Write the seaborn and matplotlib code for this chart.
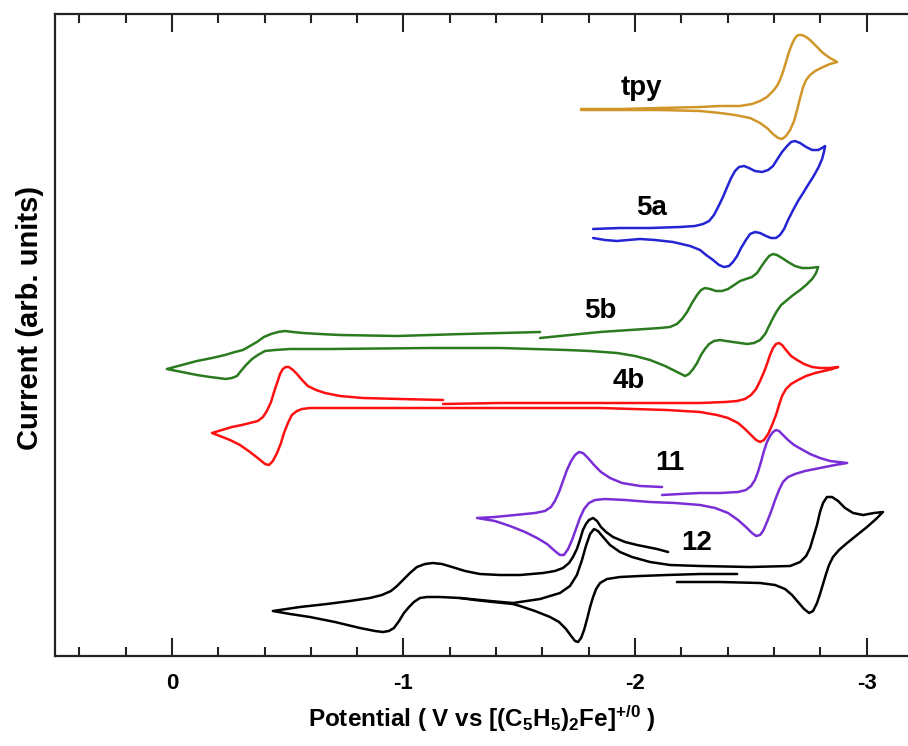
import numpy as np
import pandas as pd
import matplotlib
matplotlib.use("Agg")
import matplotlib.pyplot as plt
from matplotlib.ticker import MultipleLocator
import seaborn as sns

# ---- data (potential in V vs Fc+/0, current in arb. units) ----
tpy_E = [-1.767, -1.935, -2.108, -2.281, -2.367, -2.454, -2.505, -2.540, -2.570, -2.596, -2.613, -2.626, -2.639,
         -2.652, -2.665, -2.678, -2.691, -2.704, -2.721, -2.739, -2.756, -2.782, -2.812, -2.842, -2.873,
         -2.842, -2.812, -2.778, -2.756, -2.739, -2.726, -2.713, -2.700, -2.687, -2.670, -2.652, -2.635, -2.618,
         -2.596, -2.570, -2.540, -2.497, -2.432, -2.367, -2.281, -2.108, -1.935, -1.767]
tpy_I = [547, 547, 548, 549, 550, 550, 552, 555, 559, 565, 570, 576, 584,
         594, 604, 612, 618, 621, 621, 619, 616, 610, 603, 598, 594,
         592, 589, 585, 581, 576, 569, 558, 546, 535, 526, 520, 517, 518,
         522, 528, 533, 538, 541, 543, 545, 546, 546, 546]

a5_E = [-1.819, -1.935, -2.065, -2.194, -2.259, -2.294, -2.320, -2.341, -2.359, -2.380, -2.398, -2.415, -2.432,
        -2.449, -2.471, -2.492, -2.518, -2.549, -2.575, -2.596, -2.618, -2.635, -2.657, -2.674, -2.691, -2.713,
        -2.739, -2.765, -2.791, -2.808, -2.821,
        -2.816, -2.808, -2.791, -2.769, -2.747, -2.726, -2.704, -2.683, -2.661, -2.644, -2.626, -2.609, -2.587,
        -2.566, -2.540, -2.518, -2.497, -2.479, -2.458, -2.441, -2.423, -2.406, -2.384, -2.363, -2.337, -2.307,
        -2.281, -2.238, -2.164, -2.086, -2.022, -1.970, -1.922, -1.870, -1.819]
a5_I = [427, 428, 428, 429, 430, 432, 435, 441, 449, 459, 469, 478, 485,
        489, 490, 488, 485, 484, 486, 490, 498, 504, 510, 514, 515, 513,
        509, 506, 506, 508, 510,
        504, 497, 488, 479, 471, 463, 455, 446, 436, 427, 421, 418, 418,
        420, 423, 424, 422, 416, 408, 400, 394, 390, 389, 391, 396, 401,
        406, 410, 414, 416, 417, 416, 415, 416, 418]

b5_E = [-1.590, -1.719, -1.849, -1.978, -2.108, -2.151, -2.181, -2.203, -2.225, -2.246, -2.268, -2.285, -2.302,
        -2.324, -2.350, -2.376, -2.402, -2.428, -2.454, -2.479, -2.505, -2.527, -2.544, -2.562, -2.579, -2.596,
        -2.613, -2.635, -2.661, -2.691, -2.721, -2.756, -2.791,
        -2.782, -2.765, -2.739, -2.713, -2.683, -2.657, -2.631, -2.613, -2.596, -2.579, -2.562, -2.540, -2.514,
        -2.484, -2.454, -2.423, -2.393, -2.367, -2.341, -2.320, -2.302, -2.285, -2.268, -2.251, -2.233, -2.216,
        -2.199, -2.173, -2.130, -2.065, -2.000, -1.922, -1.806, -1.706, -1.417, -1.114, -0.683, -0.510, -0.445,
        -0.402, -0.371, -0.346, -0.320, -0.298, -0.281, -0.259, -0.233, -0.199, -0.164, -0.108, -0.043, 0.022,
        -0.043, -0.108, -0.173, -0.229, -0.272, -0.307, -0.337, -0.367, -0.397, -0.428, -0.458, -0.488, -0.523,
        -0.566, -0.639, -0.726, -0.972, -1.257, -1.590]
b5_I = [318, 321, 324, 326, 328, 329, 332, 337, 344, 353, 361, 366, 368,
        367, 365, 365, 367, 371, 375, 377, 379, 383, 389, 395, 400, 402,
        401, 398, 394, 390, 388, 388, 389,
        383, 377, 371, 366, 361, 356, 351, 345, 338, 330, 322, 316, 313,
        312, 313, 314, 315, 316, 315, 312, 307, 301, 293, 287, 282, 280,
        282, 285, 290, 296, 300, 303, 305, 306, 308, 308, 307, 307, 306,
        305, 301, 297, 291, 285, 280, 278, 277, 278, 279, 281, 284, 287,
        291, 295, 298, 301, 304, 306, 310, 314, 319, 322, 324, 325, 324,
        323, 322, 321, 320, 322, 324]

b4_E = [-1.171, -1.417, -1.991, -2.281, -2.389, -2.441, -2.475, -2.501, -2.523, -2.540, -2.557, -2.570, -2.583,
        -2.596, -2.609, -2.622, -2.635, -2.652, -2.674, -2.700, -2.730, -2.765, -2.799, -2.842, -2.877,
        -2.851, -2.816, -2.778, -2.739, -2.704, -2.674, -2.652, -2.635, -2.622, -2.609, -2.592, -2.575, -2.557,
        -2.540, -2.523, -2.501, -2.475, -2.445, -2.402, -2.354, -2.281, -2.138, -1.849, -1.201, -0.769, -0.596,
        -0.562, -0.540, -0.518, -0.501, -0.484, -0.471, -0.454, -0.436, -0.419, -0.402, -0.376, -0.337, -0.294,
        -0.251, -0.207, -0.173,
        -0.216, -0.259, -0.302, -0.337, -0.371, -0.393, -0.410, -0.428, -0.441, -0.454, -0.467, -0.479, -0.492,
        -0.505, -0.523, -0.540, -0.562, -0.587, -0.622, -0.661, -0.726, -0.825, -0.985, -1.171]
b4_I = [252, 253, 253, 253, 254, 255, 257, 261, 267, 275, 284, 292, 301,
        308, 312, 313, 311, 306, 300, 296, 292, 289, 288, 288, 289,
        287, 285, 283, 280, 276, 272, 267, 260, 251, 241, 231, 222, 216,
        214, 216, 221, 227, 233, 238, 241, 244, 246, 248, 248, 248, 248,
        247, 245, 241, 233, 223, 213, 203, 195, 191, 192, 197, 204, 211,
        216, 220, 223,
        226, 229, 231, 233, 235, 239, 245, 254, 264, 273, 282, 287, 289,
        289, 286, 282, 276, 270, 266, 263, 260, 258, 257, 256]

c11_E = [-2.117, -2.194, -2.281, -2.367, -2.445, -2.479, -2.501, -2.518, -2.531, -2.544, -2.557, -2.570, -2.583,
         -2.596, -2.609, -2.622, -2.639, -2.661, -2.687, -2.717, -2.756, -2.799, -2.842, -2.916,
         -2.864, -2.799, -2.734, -2.691, -2.661, -2.639, -2.622, -2.605, -2.587, -2.570, -2.553, -2.540, -2.523,
         -2.505, -2.479, -2.445, -2.402, -2.346, -2.281, -2.173, -2.065, -1.957, -1.870, -1.827, -1.801, -1.780,
         -1.762, -1.745, -1.728, -1.711, -1.693, -1.676, -1.654, -1.620, -1.577, -1.525, -1.460, -1.395, -1.318,
         -1.395, -1.482, -1.568, -1.611, -1.637, -1.654, -1.672, -1.689, -1.706, -1.724, -1.741, -1.758, -1.775,
         -1.797, -1.823, -1.853, -1.892, -1.944, -2.022, -2.117]
c11_I = [161, 162, 163, 163, 164, 166, 170, 176, 184, 194, 205, 214, 220,
         224, 226, 225, 221, 216, 211, 207, 202, 198, 195, 193,
         191, 188, 185, 182, 179, 174, 166, 156, 144, 134, 125, 121, 120,
         123, 129, 136, 143, 148, 151, 153, 154, 156, 157, 156, 153, 147,
         138, 127, 116, 107, 101, 101, 105, 112, 118, 124, 130, 135, 138,
         139, 141, 143, 145, 149, 155, 164, 175, 186, 195, 201, 204, 203,
         198, 191, 184, 178, 173, 170, 169]

# compound 12 was recorded as two scans
c12a_E = [-2.441, -2.281, -2.138, -2.022, -1.935, -1.879, -1.849, -1.832, -1.819, -1.806, -1.793, -1.780, -1.767,
          -1.754, -1.741, -1.724, -1.702, -1.672, -1.633, -1.568, -1.503, -1.473, -1.387, -1.309, -1.244, -1.158,
          -1.102, -1.071, -1.045, -1.024, -1.002, -0.981, -0.959, -0.937, -0.911, -0.877, -0.812, -0.704, -0.596,
          -0.510, -0.436,
          -0.553, -0.670, -0.769, -0.855, -0.907, -0.946, -0.972, -0.998, -1.028, -1.058, -1.093, -1.127, -1.166,
          -1.210, -1.266, -1.330, -1.417, -1.503, -1.603, -1.654, -1.689, -1.715, -1.732, -1.749, -1.762, -1.775,
          -1.788, -1.801, -1.819, -1.836, -1.853, -1.875, -1.905, -1.957, -2.009, -2.095, -2.143]
c12a_I = [82, 82, 81, 80, 79, 77, 73, 67, 59, 49, 37, 26, 18,
          14, 15, 20, 27, 34, 39, 45, 50, 52, 54, 56, 58, 59,
          59, 58, 54, 49, 43, 35, 28, 25, 24, 25, 28, 34, 39,
          42, 45,
          49, 52, 55, 58, 61, 65, 70, 76, 83, 89, 92, 93, 92,
          89, 85, 82, 81, 81, 83, 85, 88, 93, 99, 107, 116, 126,
          132, 136, 138, 135, 129, 124, 119, 114, 111, 107, 104]
c12b_E = [-2.181, -2.367, -2.540, -2.605, -2.648, -2.678, -2.704, -2.730, -2.752, -2.769, -2.786, -2.799, -2.812,
          -2.825, -2.838, -2.855, -2.881, -2.916, -2.959, -3.002, -3.041, -3.071,
          -3.032, -2.985, -2.942, -2.907, -2.877, -2.851, -2.829, -2.812, -2.799, -2.786, -2.769, -2.756, -2.739,
          -2.713, -2.670, -2.497, -2.281, -2.151, -2.065, -1.987, -1.935, -1.892, -1.862, -1.840, -1.823, -1.806,
          -1.788, -1.771, -1.749, -1.719, -1.676, -1.590, -1.473, -1.374, -1.244]
c12b_I = [74, 74, 73, 71, 67, 61, 54, 47, 43, 45, 53, 62, 72,
          82, 91, 99, 106, 113, 121, 129, 137, 144,
          143, 141, 143, 148, 155, 159, 159, 153, 144, 131, 118, 108, 100,
          94, 90, 89, 90, 91, 94, 99, 104, 111, 119, 125, 127, 122,
          110, 96, 81, 70, 63, 57, 53, 55, 58]

labels = ['tpy', '5a', '5b', '4b', '11', '12']
label_E = [-2.026, -2.073, -1.849, -1.974, -2.151, -2.268]
label_I = [568, 448, 345, 275, 193, 113]

xtick_vals = [0, -1, -2, -3]
xtick_labels = ['0', '-1', '-2', '-3']

curves = [
    (tpy_E, tpy_I, '#D0962A'),
    (a5_E, a5_I, '#2424D2'),
    (b5_E, b5_I, '#2A7A1E'),
    (b4_E, b4_I, '#FF1010'),
    (c11_E, c11_I, '#7A2ED6'),
    (c12a_E, c12a_I, '#000000'),
    (c12b_E, c12b_I, '#000000'),
]

sns.set_theme(style='ticks')
plt.rcParams['font.family'] = ['Liberation Sans', 'DejaVu Sans']
plt.rcParams['font.weight'] = 'bold'
plt.rcParams['text.color'] = 'black'
plt.rcParams['axes.labelcolor'] = 'black'
plt.rcParams['xtick.color'] = 'black'
plt.rcParams['axes.unicode_minus'] = False
plt.rcParams['mathtext.fontset'] = 'custom'
plt.rcParams['mathtext.rm'] = 'Liberation Sans:bold'
plt.rcParams['mathtext.it'] = 'Liberation Sans:bold'
plt.rcParams['mathtext.bf'] = 'Liberation Sans:bold'
plt.rcParams['mathtext.default'] = 'rm'

fig = plt.figure(figsize=(9.08, 7.46), dpi=100)
ax = fig.add_axes([55 / 908, 90 / 746, 853 / 908, 642 / 746])

for E, I, col in curves:
    df = pd.DataFrame({'E': E, 'I': I})
    sns.lineplot(data=df, x='E', y='I', sort=False, estimator=None, color=col, lw=1.8,
                 solid_joinstyle='round', solid_capstyle='round', ax=ax)

for txt, e, i in zip(labels, label_E, label_I):
    ax.text(e, i, txt, fontsize=20, fontweight='bold', ha='center', va='center', color='black')

ax.set_xlim(0.505, -3.179)
ax.set_ylim(0, 642)
ax.set_yticks([])
ax.set_xticks(xtick_vals)
ax.set_xticklabels(xtick_labels, fontsize=16, fontweight='bold')
ax.xaxis.set_minor_locator(MultipleLocator(0.2))
ax.tick_params(axis='x', which='both', direction='in', top=True, bottom=True, labeltop=False,
               width=1.5, pad=12, color='#222222')
ax.tick_params(axis='x', which='major', length=13)
ax.tick_params(axis='x', which='minor', length=6.5)

for side in ['left', 'top', 'bottom']:
    ax.spines[side].set_linewidth(1.6)
    ax.spines[side].set_color('#222222')
ax.spines['right'].set_visible(False)

ax.set_xlabel(r'Potential ( V vs [(C$_5$H$_5$)$_2$Fe]$^{+/0}$ )', fontsize=17.5, fontweight='bold', labelpad=7)
ax.set_ylabel('Current (arb. units)', fontsize=21, fontweight='bold')
ax.yaxis.set_label_coords(-0.013, 0.526)

fig.savefig('out.png', dpi=100)
